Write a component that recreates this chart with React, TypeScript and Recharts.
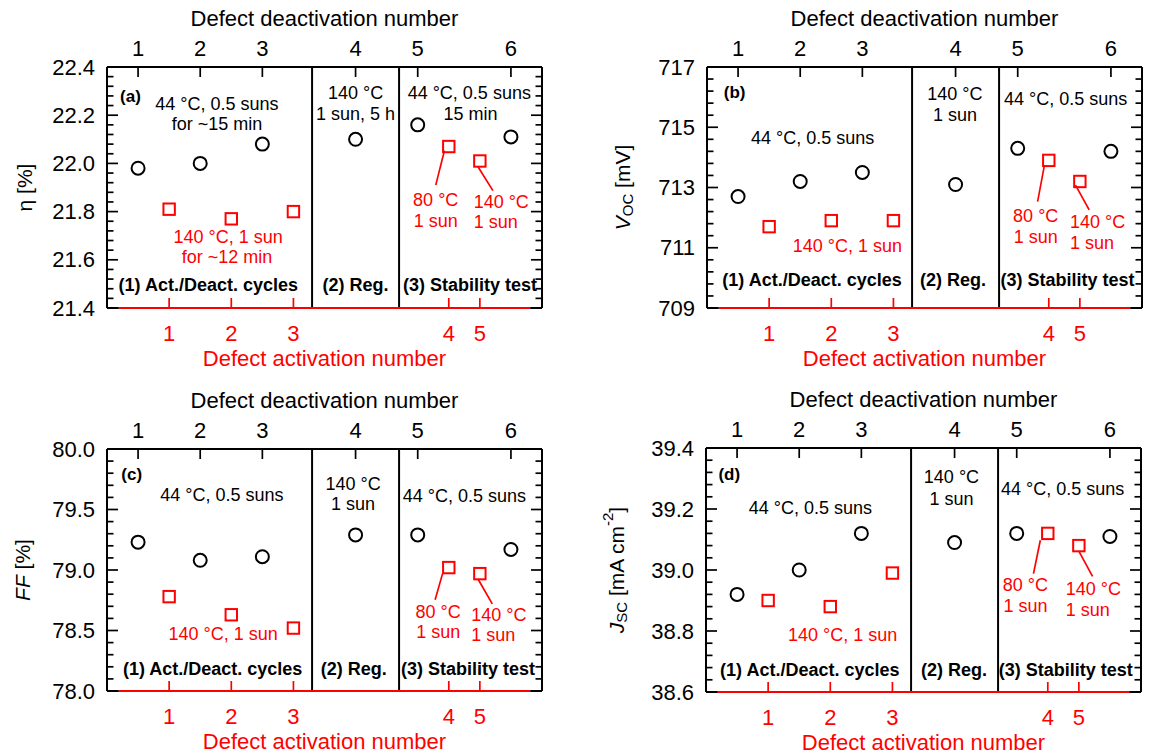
import React from 'react';
import { ScatterChart, Scatter, XAxis, YAxis, ReferenceLine, ReferenceDot } from 'recharts';

const W = 576;
const H = 377;
const FONT = '"Liberation Sans", Arial, Helvetica, sans-serif';
const RED = '#ff0000';
const BLACK = '#000000';

// Measurement sequence (shared x values)
const deactivationX = [0.5, 1.5, 2.5, 4, 5, 6.5];
const activationX = [1, 2, 3, 5.5, 6];
const deactivationLabels = ['1', '2', '3', '4', '5', '6'];
const activationLabels = ['1', '2', '3', '4', '5'];
const sectionDividers = [3.3, 4.7];
const xDomain: [number, number] = [0, 7];

// (a) efficiency
const etaDeactivated = [21.98, 22.0, 22.08, 22.1, 22.16, 22.11];
const etaActivated = [21.81, 21.77, 21.8, 22.07, 22.01];
const etaTicks = [21.4, 21.6, 21.8, 22.0, 22.2, 22.4];

// (b) Voc
const vocDeactivated = [712.7, 713.2, 713.5, 713.1, 714.3, 714.2];
const vocActivated = [711.7, 711.9, 711.9, 713.9, 713.2];
const vocTicks = [709, 711, 713, 715, 717];

// (c) FF
const ffDeactivated = [79.23, 79.08, 79.11, 79.29, 79.29, 79.17];
const ffActivated = [78.78, 78.63, 78.52, 79.02, 78.97];
const ffTicks = [78.0, 78.5, 79.0, 79.5, 80.0];

// (d) Jsc
const jscDeactivated = [38.92, 39.0, 39.12, 39.09, 39.12, 39.11];
const jscActivated = [38.9, 38.88, 38.99, 39.12, 39.08];
const jscTicks = [38.6, 38.8, 39.0, 39.2, 39.4];

type Annotation = { x: number; fy: number; text: string; red?: boolean; bold?: boolean; start?: boolean; size?: number };
type Leader = { x1: number; fy1: number; x2: number; fy2: number };

type PanelSpec = {
  id: string;
  left: number;
  top: number;
  plotLeft: number;
  plotRight: number;
  plotTop: number;
  plotBottom: number;
  yMajor: number[];
  minorStep: number;
  decimals: number;
  deact: number[];
  act: number[];
  yLabel: (cx: number, cy: number) => React.ReactNode;
  yLabelGap: number;
  annotations: Annotation[];
  leaders: Leader[];
};

const makeTicks = (min: number, max: number, step: number) => {
  const n = Math.round((max - min) / step);
  const out: number[] = [];
  for (let i = 0; i <= n; i++) out.push(Number((min + i * step).toFixed(6)));
  return out;
};

const labelText = (cx: number, cy: number, children: React.ReactNode) => (
  <text
    x={cx}
    y={cy}
    transform={`rotate(-90 ${cx} ${cy})`}
    textAnchor="middle"
    dominantBaseline="central"
    fontSize={21}
    fontFamily={FONT}
    fill={BLACK}
  >
    {children}
  </text>
);

const sections = (fy: number, x1: number, x2: number, x3: number): Annotation[] => [
  { x: x1, fy, text: '(1) Act./Deact. cycles', bold: true },
  { x: x2, fy, text: '(2) Reg.', bold: true },
  { x: x3, fy, text: '(3) Stability test', bold: true },
];

const panels: PanelSpec[] = [
  {
    id: 'a',
    left: 0,
    top: 0,
    plotLeft: 107,
    plotRight: 542,
    plotTop: 67,
    plotBottom: 308,
    yMajor: etaTicks,
    minorStep: 0.04,
    decimals: 1,
    deact: etaDeactivated,
    act: etaActivated,
    yLabelGap: 83,
    yLabel: (cx, cy) => labelText(cx, cy, <tspan>η [%]</tspan>),
    annotations: [
      { x: 0.21, fy: 0.124, text: '(a)', bold: true, start: true, size: 17 },
      { x: 1.77, fy: 0.154, text: '44 °C, 0.5 suns' },
      { x: 1.77, fy: 0.237, text: 'for ~15 min' },
      { x: 4.0, fy: 0.108, text: '140 °C' },
      { x: 4.0, fy: 0.195, text: '1 sun, 5 h' },
      { x: 5.83, fy: 0.108, text: '44 °C, 0.5 suns' },
      { x: 5.85, fy: 0.195, text: '15 min' },
      { x: 1.95, fy: 0.705, text: '140 °C, 1 sun', red: true },
      { x: 1.93, fy: 0.788, text: 'for ~12 min', red: true },
      { x: 5.29, fy: 0.552, text: '80 °C', red: true },
      { x: 5.29, fy: 0.639, text: '1 sun', red: true },
      { x: 5.9, fy: 0.56, text: '140 °C', red: true, start: true },
      { x: 5.9, fy: 0.643, text: '1 sun', red: true, start: true },
      ...sections(0.905, 1.63, 4.0, 5.84),
    ],
    leaders: [
      { x1: 5.29, fy1: 0.49, x2: 5.43, fy2: 0.347 },
      { x1: 6.21, fy1: 0.513, x2: 5.97, fy2: 0.414 },
    ],
  },
  {
    id: 'b',
    left: 576,
    top: 0,
    plotLeft: 131,
    plotRight: 566,
    plotTop: 67,
    plotBottom: 308,
    yMajor: vocTicks,
    minorStep: 0.4,
    decimals: 0,
    deact: vocDeactivated,
    act: vocActivated,
    yLabelGap: 85,
    yLabel: (cx, cy) =>
      labelText(
        cx,
        cy,
        <>
          <tspan fontStyle="italic">V</tspan>
          <tspan fontSize={15} dy={5}>OC</tspan>
          <tspan dy={-5}> [mV]</tspan>
        </>
      ),
    annotations: [
      { x: 0.27, fy: 0.104, text: '(b)', bold: true, start: true, size: 17 },
      { x: 1.7, fy: 0.295, text: '44 °C, 0.5 suns' },
      { x: 3.99, fy: 0.112, text: '140 °C' },
      { x: 3.99, fy: 0.199, text: '1 sun' },
      { x: 5.77, fy: 0.133, text: '44 °C, 0.5 suns' },
      { x: 2.26, fy: 0.743, text: '140 °C, 1 sun', red: true },
      { x: 5.29, fy: 0.618, text: '80 °C', red: true },
      { x: 5.29, fy: 0.705, text: '1 sun', red: true },
      { x: 5.84, fy: 0.643, text: '140 °C', red: true, start: true },
      { x: 5.84, fy: 0.73, text: '1 sun', red: true, start: true },
      ...sections(0.884, 1.69, 3.96, 5.8),
    ],
    leaders: [
      { x1: 5.32, fy1: 0.559, x2: 5.43, fy2: 0.407 },
      { x1: 6.15, fy1: 0.593, x2: 5.93, fy2: 0.49 },
    ],
  },
  {
    id: 'c',
    left: 0,
    top: 377,
    plotLeft: 107,
    plotRight: 542,
    plotTop: 72,
    plotBottom: 314,
    yMajor: ffTicks,
    minorStep: 0.1,
    decimals: 1,
    deact: ffDeactivated,
    act: ffActivated,
    yLabelGap: 85,
    yLabel: (cx, cy) =>
      labelText(
        cx,
        cy,
        <>
          <tspan fontStyle="italic">FF</tspan>
          <tspan> [%]</tspan>
        </>
      ),
    annotations: [
      { x: 0.23, fy: 0.107, text: '(c)', bold: true, start: true, size: 17 },
      { x: 1.85, fy: 0.191, text: '44 °C, 0.5 suns' },
      { x: 3.96, fy: 0.143, text: '140 °C' },
      { x: 3.96, fy: 0.226, text: '1 sun' },
      { x: 5.75, fy: 0.196, text: '44 °C, 0.5 suns' },
      { x: 1.87, fy: 0.766, text: '140 °C, 1 sun', red: true },
      { x: 5.33, fy: 0.674, text: '80 °C', red: true },
      { x: 5.33, fy: 0.756, text: '1 sun', red: true },
      { x: 5.86, fy: 0.685, text: '140 °C', red: true, start: true },
      { x: 5.86, fy: 0.77, text: '1 sun', red: true, start: true },
      ...sections(0.91, 1.7, 3.97, 5.81),
    ],
    leaders: [
      { x1: 5.28, fy1: 0.623, x2: 5.4, fy2: 0.515 },
      { x1: 6.2, fy1: 0.64, x2: 5.97, fy2: 0.537 },
    ],
  },
  {
    id: 'd',
    left: 576,
    top: 377,
    plotLeft: 130,
    plotRight: 565,
    plotTop: 71,
    plotBottom: 315,
    yMajor: jscTicks,
    minorStep: 0.04,
    decimals: 1,
    deact: jscDeactivated,
    act: jscActivated,
    yLabelGap: 90,
    yLabel: (cx, cy) =>
      labelText(
        cx,
        cy,
        <>
          <tspan fontStyle="italic">J</tspan>
          <tspan fontSize={15} dy={5}>SC</tspan>
          <tspan dy={-5}> [mA cm</tspan>
          <tspan fontSize={15} dy={-9}>-2</tspan>
          <tspan dy={9}>]</tspan>
        </>
      ),
    annotations: [
      { x: 0.2, fy: 0.109, text: '(d)', bold: true, start: true, size: 17 },
      { x: 1.68, fy: 0.245, text: '44 °C, 0.5 suns' },
      { x: 3.95, fy: 0.119, text: '140 °C' },
      { x: 3.95, fy: 0.208, text: '1 sun' },
      { x: 5.74, fy: 0.169, text: '44 °C, 0.5 suns' },
      { x: 2.2, fy: 0.768, text: '140 °C, 1 sun', red: true },
      { x: 5.14, fy: 0.563, text: '80 °C', red: true },
      { x: 5.14, fy: 0.649, text: '1 sun', red: true },
      { x: 5.79, fy: 0.579, text: '140 °C', red: true, start: true },
      { x: 5.79, fy: 0.663, text: '1 sun', red: true, start: true },
      ...sections(0.911, 1.67, 3.99, 5.79),
    ],
    leaders: [
      { x1: 5.27, fy1: 0.515, x2: 5.38, fy2: 0.378 },
      { x1: 6.22, fy1: 0.526, x2: 6.0, fy2: 0.423 },
    ],
  },
];

const CircleShape = (p: any) => (
  <circle cx={p.cx} cy={p.cy} r={6.5} fill="none" stroke={BLACK} strokeWidth={2} />
);
const SquareShape = (p: any) => (
  <rect x={p.cx - 5.7} y={p.cy - 5.7} width={11.4} height={11.4} fill="none" stroke={RED} strokeWidth={2} />
);

function Panel({ spec }: { spec: PanelSpec }) {
  const y0 = spec.yMajor[0];
  const y1 = spec.yMajor[spec.yMajor.length - 1];
  const yDomain: [number, number] = [y0, y1];
  const fy = (f: number) => y1 - f * (y1 - y0);
  const yTicks = makeTicks(y0, y1, spec.minorStep);
  const isMajor = (v: number) => spec.yMajor.some((m) => Math.abs(m - v) < 1e-6);
  const circles = deactivationX.map((x, i) => ({ x, y: spec.deact[i] }));
  const squares = activationX.map((x, i) => ({ x, y: spec.act[i] }));
  const bottomH = H - spec.plotBottom;

  const leftTick = (p: any) => {
    const v = Number(p.payload.value);
    const major = isMajor(v);
    return (
      <g>
        <line x1={p.x} x2={p.x + (major ? 11 : 6.5)} y1={p.y} y2={p.y} stroke={BLACK} strokeWidth={1.7} />
        {major && (
          <text x={p.x - 12} y={p.y} textAnchor="end" dominantBaseline="central" fontSize={22} fontFamily={FONT} fill={BLACK}>
            {v.toFixed(spec.decimals)}
          </text>
        )}
      </g>
    );
  };
  const rightTick = (p: any) => {
    const v = Number(p.payload.value);
    const major = isMajor(v);
    return <line x1={p.x} x2={p.x - (major ? 11 : 6.5)} y1={p.y} y2={p.y} stroke={BLACK} strokeWidth={1.7} />;
  };
  const topTick = (p: any) => {
    const idx = p.index ?? deactivationX.indexOf(Number(p.payload.value));
    return (
      <g>
        <line x1={p.x} x2={p.x} y1={p.y} y2={p.y + 10} stroke={BLACK} strokeWidth={1.7} />
        <text x={p.x} y={p.y - 19} textAnchor="middle" dominantBaseline="central" fontSize={22} fontFamily={FONT} fill={BLACK}>
          {deactivationLabels[idx]}
        </text>
      </g>
    );
  };
  const bottomTick = (p: any) => {
    const idx = p.index ?? activationX.indexOf(Number(p.payload.value));
    return (
      <g>
        <line x1={p.x} x2={p.x} y1={p.y} y2={p.y - 10} stroke={RED} strokeWidth={1.7} />
        <text x={p.x} y={p.y + 25} textAnchor="middle" dominantBaseline="central" fontSize={22} fontFamily={FONT} fill={RED}>
          {activationLabels[idx]}
        </text>
      </g>
    );
  };

  return (
    <ScatterChart
      width={W}
      height={H}
      margin={{ top: 0, left: 0, right: W - spec.plotRight - 1, bottom: 0 }}
      style={{ fontFamily: FONT }}
    >
      <XAxis
        xAxisId="top"
        orientation="top"
        type="number"
        dataKey="x"
        domain={xDomain}
        allowDataOverflow
        ticks={deactivationX}
        interval={0}
        height={spec.plotTop}
        tickSize={0}
        tickMargin={0}
        tickLine={false}
        axisLine={{ stroke: BLACK, strokeWidth: 2 }}
        tick={topTick}
        label={{
          value: 'Defect deactivation number',
          position: 'insideTop',
          offset: spec.plotTop - 57,
          fontSize: 22,
          fill: BLACK,
          fontFamily: FONT,
        }}
      />
      <XAxis
        xAxisId="bottom"
        orientation="bottom"
        type="number"
        dataKey="x"
        domain={xDomain}
        allowDataOverflow
        ticks={activationX}
        interval={0}
        height={bottomH}
        tickSize={0}
        tickMargin={0}
        tickLine={false}
        axisLine={false}
        tick={bottomTick}
        label={{
          value: 'Defect activation number',
          position: 'insideBottom',
          offset: bottomH - 58,
          fontSize: 22,
          fill: RED,
          fontFamily: FONT,
        }}
      />
      <YAxis
        yAxisId="left"
        orientation="left"
        type="number"
        dataKey="y"
        domain={yDomain}
        allowDataOverflow
        ticks={yTicks}
        interval={0}
        width={spec.plotLeft}
        tickSize={0}
        tickMargin={0}
        tickLine={false}
        axisLine={{ stroke: BLACK, strokeWidth: 2 }}
        tick={leftTick}
        label={{
          content: (p: any) => {
            const vb = p.viewBox || { x: 0, y: spec.plotTop, width: spec.plotLeft, height: spec.plotBottom - spec.plotTop };
            return spec.yLabel(vb.x + vb.width - spec.yLabelGap, vb.y + vb.height / 2);
          },
        }}
      />
      <YAxis
        yAxisId="right"
        orientation="right"
        type="number"
        dataKey="y"
        domain={yDomain}
        allowDataOverflow
        ticks={yTicks}
        interval={0}
        width={1}
        tickSize={0}
        tickMargin={0}
        tickLine={false}
        axisLine={{ stroke: BLACK, strokeWidth: 2 }}
        tick={rightTick}
      />

      {sectionDividers.map((x) => (
        <ReferenceLine key={`div-${x}`} xAxisId="top" yAxisId="left" x={x} stroke={BLACK} strokeWidth={2} ifOverflow="visible" />
      ))}

      <ReferenceLine
        xAxisId="top"
        yAxisId="left"
        segment={[{ x: 0, y: y0 }, { x: 0.19, y: y0 }]}
        stroke={BLACK}
        strokeWidth={2}
        ifOverflow="visible"
      />
      <ReferenceLine
        xAxisId="top"
        yAxisId="left"
        segment={[{ x: 0.19, y: y0 }, { x: 6.81, y: y0 }]}
        stroke={RED}
        strokeWidth={2}
        ifOverflow="visible"
      />
      <ReferenceLine
        xAxisId="top"
        yAxisId="left"
        segment={[{ x: 6.81, y: y0 }, { x: 7, y: y0 }]}
        stroke={BLACK}
        strokeWidth={2}
        ifOverflow="visible"
      />

      {spec.leaders.map((l, i) => (
        <ReferenceLine
          key={`lead-${i}`}
          xAxisId="top"
          yAxisId="left"
          segment={[{ x: l.x1, y: fy(l.fy1) }, { x: l.x2, y: fy(l.fy2) }]}
          stroke={RED}
          strokeWidth={1.7}
          ifOverflow="visible"
        />
      ))}

      {spec.annotations.map((a, i) => (
        <ReferenceDot
          key={`ann-${i}`}
          xAxisId="top"
          yAxisId="left"
          x={a.x}
          y={fy(a.fy)}
          r={0}
          ifOverflow="visible"
          shape={(p: any) => (
            <text
              x={p.cx}
              y={p.cy}
              textAnchor={a.start ? 'start' : 'middle'}
              dominantBaseline="central"
              fontSize={a.size ?? 18}
              fontWeight={a.bold ? 'bold' : 'normal'}
              fontFamily={FONT}
              fill={a.red ? RED : BLACK}
            >
              {a.text}
            </text>
          )}
        />
      ))}

      <Scatter
        name="deactivated"
        data={circles}
        xAxisId="top"
        yAxisId="left"
        shape={CircleShape}
        isAnimationActive={false}
      />
      <Scatter
        name="activated"
        data={squares}
        xAxisId="bottom"
        yAxisId="left"
        shape={SquareShape}
        isAnimationActive={false}
      />
    </ScatterChart>
  );
}

export default function App() {
  return (
    <div style={{ position: 'absolute', left: 0, top: 0, width: 1152, height: 754, background: '#ffffff', fontFamily: FONT }}>
      {panels.map((p) => (
        <div key={p.id} style={{ position: 'absolute', left: p.left, top: p.top, width: W, height: H }}>
          <Panel spec={p} />
        </div>
      ))}
    </div>
  );
}
